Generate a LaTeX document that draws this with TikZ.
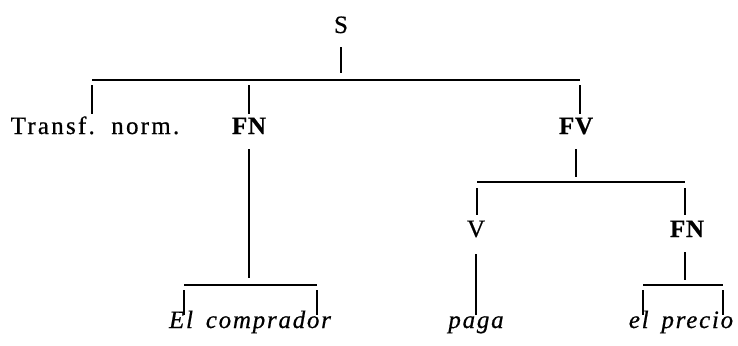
\documentclass[tikz,border=0pt]{standalone}
\usepackage{fontspec}
\setmainfont{Liberation Serif}[LetterSpace=9, WordSpace=1.6, FakeBold=0.6]

\begin{document}
\begin{tikzpicture}[
    x=1pt, y=-1pt,
    every node/.style={inner sep=0pt, anchor=base, font=\fontsize{25}{29}\selectfont},
    lab/.style={text height=17pt, text depth=5pt},
    cat/.style={lab, font=\fontsize{25}{29}\selectfont\bfseries\addfontfeature{LetterSpace=3}},
    leaf/.style={text height=12pt, text depth=5pt, font=\fontsize{25}{29}\selectfont\itshape\addfontfeature{LetterSpace=7}},
    branch/.style={line width=1.4pt},
  ]
  \useasboundingbox (0,0) rectangle (738,345);

  % labels
  \node[lab]  (s)   at (341,33)  {S};
  \node[lab]  (tn)  at (95,134)  {Transf. norm.};
  \node[cat]  (fn)  at (249,134) {FN};
  \node[cat]  (fv)  at (576,134) {FV};
  \node[lab]  (v)   at (476,237) {V};
  \node[cat]  (fn2) at (687,237) {FN};
  \node[leaf] (ec)  at (250,328) {El comprador};
  \node[leaf] (pg)  at (476,328) {paga};
  \node[leaf] (ep)  at (681,328) {el precio};

  % ends of the horizontal bars
  \coordinate (j0L) at (92,80);   \coordinate (j0R) at (580,80);
  \coordinate (j1L) at (184,285); \coordinate (j1R) at (317,285);
  \coordinate (j2L) at (477,182); \coordinate (j2R) at (685,182);
  \coordinate (j3L) at (643,285); \coordinate (j3R) at (723,285);

  % S
  \draw[branch, shorten <=9pt, shorten >=7pt] (s.south) -- (s.south |- j0L);
  \draw[branch] (j0L) -- (j0R);
  \draw[branch, shorten <=5pt, shorten >=3pt] (j0L) -- (j0L |- tn.north);
  \draw[branch, shorten <=5pt, shorten >=3pt] (fn.north |- j0L) -- (fn.north);
  \draw[branch, shorten <=5pt, shorten >=3pt] (j0R) -- (j0R |- fv.north);

  % FN -> El comprador
  \draw[branch, shorten <=10pt, shorten >=7pt] (fn.south) -- (fn.south |- j1L);
  \draw[branch] (j1L) -- (j1R);
  \draw[branch, shorten <=5pt, shorten >=1pt] (j1L) -- (j1L |- ec.north);
  \draw[branch, shorten <=5pt, shorten >=1pt] (j1R) -- (j1R |- ec.north);

  % FV -> V, FN
  \draw[branch, shorten <=10pt, shorten >=5pt] (fv.south) -- (fv.south |- j2L);
  \draw[branch] (j2L) -- (j2R);
  \draw[branch, shorten <=6pt, shorten >=5pt] (j2L) -- (j2L |- v.north);
  \draw[branch, shorten <=6pt, shorten >=5pt] (j2R) -- (j2R |- fn2.north);

  % V -> paga
  \draw[branch, shorten <=12pt, shorten >=1pt] (v.south) -- (pg.north);

  % FN -> el precio
  \draw[branch, shorten <=10pt, shorten >=5pt] (fn2.south -| j2R) -- (j3L -| j2R);
  \draw[branch] (j3L) -- (j3R);
  \draw[branch, shorten <=5pt, shorten >=1pt] (j3L) -- (j3L |- ep.north);
  \draw[branch, shorten <=5pt, shorten >=1pt] (j3R) -- (j3R |- ep.north);
\end{tikzpicture}
\end{document}
